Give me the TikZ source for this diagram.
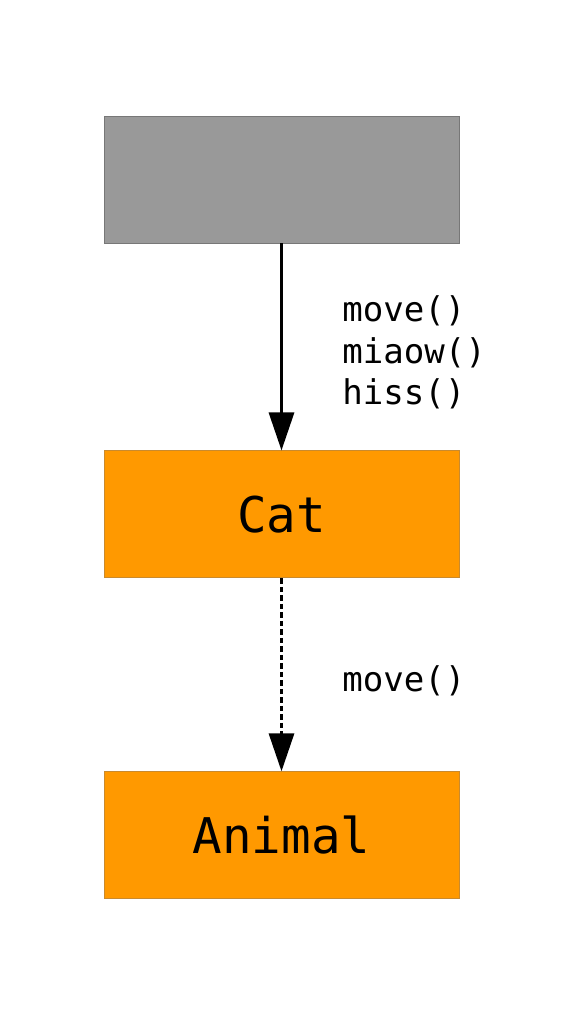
\documentclass[tikz,border=0pt]{standalone}
\usepackage{fontspec}
\usepackage{xcolor}
\usepackage{tikz}
\usetikzlibrary{arrows.meta, positioning, calc}
\newfontfamily\codefont{DejaVu Sans Mono}
\definecolor{boxgray}{HTML}{999999}
\definecolor{boxgrayline}{HTML}{777777}
\definecolor{boxorange}{HTML}{FF9900}
\definecolor{boxorangeline}{HTML}{C98A2E}

\begin{document}
\begin{tikzpicture}[node distance=4.14cm, auto]
    \tikzstyle{client} = [rectangle, draw=boxgrayline, line width=0.5pt, fill=boxgray, minimum width=7.1cm, minimum height=2.54cm]
    \tikzstyle{klass} = [rectangle, draw=boxorangeline, line width=0.5pt, fill=boxorange, minimum width=7.1cm, minimum height=2.54cm, font=\codefont\fontsize{28}{32}\selectfont]
    \tikzstyle{msg} = [inner sep=0pt, align=left, font=\codefont\fontsize{19.4}{23.8}\selectfont]
    \tikzstyle{line} = [draw, line width=1.8pt, -{Triangle[length=0.76cm, width=0.5cm]}]

    \useasboundingbox (0,0) rectangle (11.38,-20.48);

    \node [client] (caller) at (5.63,-3.59) {};
    \node [klass, below=of caller] (cat) {Cat};
    \node [klass, below=3.86cm of cat] (animal) {Animal};

    \path [line] (caller) -- (cat);
    \path [line, dash pattern=on 0.11cm off 0.06cm] (cat) -- (animal);

    \node [msg, anchor=west] (catmsg) at ([xshift=1.21cm, yshift=-0.11cm]$(caller.south)!0.5!(cat.north)$) {move()\\miaow()\\hiss()};
    \node [msg, anchor=west] (animalmsg) at ([xshift=1.21cm, yshift=-0.11cm]$(cat.south)!0.5!(animal.north)$) {move()};
\end{tikzpicture}
\end{document}
